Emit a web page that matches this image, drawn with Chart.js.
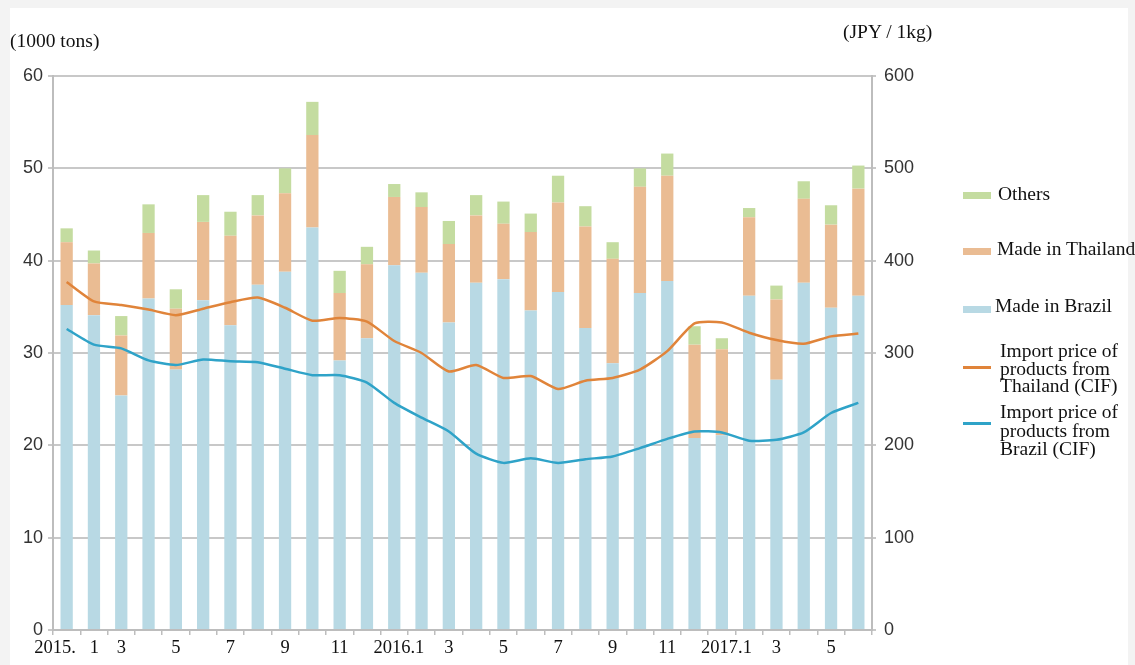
<!DOCTYPE html>
<html>
<head>
<meta charset="utf-8">
<script src="https://cdn.jsdelivr.net/npm/chart.js@4.4.0/dist/chart.umd.min.js"></script>
<style>
  html, body { margin: 0; padding: 0; width: 1135px; height: 665px; overflow: hidden; background: #f3f3f3; }
  #frame { position: absolute; left: 10px; top: 8px; width: 1118px; height: 657px; background: #ffffff; }
  #c { position: absolute; left: 0; top: 0; }
  .txt { position: absolute; font-family: "Liberation Serif", "Times New Roman", serif; font-size: 19.5px; color: #111; white-space: nowrap; }
  .sw { position: absolute; width: 28px; height: 7px; }
  .ln { position: absolute; width: 28px; height: 3px; }
</style>
</head>
<body>
<div id="frame"></div>
<canvas id="c" width="1135" height="665"></canvas>
<div class="txt" style="left:10px; top:30px;">(1000 tons)</div>
<div class="txt" style="left:843px; top:21px;">(JPY / 1kg)</div>

<div class="sw" style="left:963px; top:192px; background:#c4dca0;"></div>
<div class="txt" style="left:998px; top:183px;">Others</div>
<div class="sw" style="left:963px; top:248px; background:#eabc93;"></div>
<div class="txt" style="left:997px; top:238px;">Made in Thailand</div>
<div class="sw" style="left:963px; top:306px; background:#b8d9e4;"></div>
<div class="txt" style="left:995px; top:295px;">Made in Brazil</div>
<div class="ln" style="left:963px; top:366px; background:#e0843a;"></div>
<div class="txt" style="left:1000px; top:342px; line-height:17.5px;">Import price of<br>products from<br>Thailand (CIF)</div>
<div class="ln" style="left:963px; top:422px; background:#2fa3c8;"></div>
<div class="txt" style="left:1000px; top:403px; line-height:18.5px;">Import price of<br>products from<br>Brazil (CIF)</div>

<script>
const labels = ["2015.   1","","3","","5","","7","","9","","11","","  2016.1","","3","","5","","7","","9","","11","","  2017.1","","3","","5",""];
const madeInBrazil = [35.2,34.1,25.4,35.9,28.2,35.7,33.0,37.4,38.8,43.6,29.2,31.6,39.5,38.7,33.3,37.6,38.0,34.6,36.6,32.7,28.9,36.5,37.8,20.8,21.1,36.2,27.1,37.6,34.9,36.2];
const madeInThailand = [6.8,5.6,6.5,7.1,6.6,8.5,9.7,7.5,8.5,10.0,7.3,8.0,7.4,7.1,8.5,7.3,6.0,8.5,9.7,11.0,11.3,11.5,11.4,10.1,9.3,8.5,8.7,9.1,9.0,11.6];
const others = [1.5,1.4,2.1,3.1,2.1,2.9,2.6,2.2,2.7,3.6,2.4,1.9,1.4,1.6,2.5,2.2,2.4,2.0,2.9,2.2,1.8,2.0,2.4,2.0,1.2,1.0,1.5,1.9,2.1,2.5];
const priceThailand = [377,356,352,347,341,348,355,360,349,335,338,334,313,300,280,287,273,275,261,270,273,282,302,332,333,322,314,310,318,321];
const priceBrazil = [326,309,305,292,287,293,291,290,283,276,276,268,246,230,215,191,181,186,181,185,188,197,207,215,214,205,206,214,235,246];
const leftTicks = [0,10,20,30,40,50,60];
const rightTicks = [0,100,200,300,400,500,600];

const tickFont = { family: "'Liberation Sans', Arial, sans-serif", size: 18 };
const barCommon = { type: 'bar', yAxisID: 'y', stack: 's', barPercentage: 0.45, categoryPercentage: 1.0, order: 2, borderWidth: 0 };

new Chart(document.getElementById('c'), {
  data: {
    labels: labels,
    datasets: [
      { label: 'Import price of products from Thailand (CIF)', type: 'line', data: priceThailand, yAxisID: 'y2', borderColor: '#e0843a', borderWidth: 2.5, pointRadius: 0, tension: 0.2, fill: false, order: 0 },
      { label: 'Import price of products from Brazil (CIF)', type: 'line', data: priceBrazil, yAxisID: 'y2', borderColor: '#2fa3c8', borderWidth: 2.5, pointRadius: 0, tension: 0.2, fill: false, order: 0 },
      Object.assign({ label: 'Made in Brazil', data: madeInBrazil, backgroundColor: '#b8d9e4' }, barCommon),
      Object.assign({ label: 'Made in Thailand', data: madeInThailand, backgroundColor: '#eabc93' }, barCommon),
      Object.assign({ label: 'Others', data: others, backgroundColor: '#c4dca0' }, barCommon)
    ]
  },
  options: {
    responsive: false,
    animation: false,
    devicePixelRatio: 1,
    layout: { padding: { top: 76, left: 0, right: 0, bottom: 0 } },
    plugins: { legend: { display: false }, tooltip: { enabled: false } },
    scales: {
      x: {
        stacked: true,
        offset: true,
        afterFit: s => { s.height = 35; },
        grid: { offset: true, drawOnChartArea: false, tickLength: 5, color: '#bdbdbd', lineWidth: 1.5 },
        border: { color: '#bdbdbd', width: 2 },
        ticks: { autoSkip: false, maxRotation: 0, minRotation: 0, padding: 2, color: '#111', font: { family: "'Liberation Serif', 'Times New Roman', serif", size: 18.5 } }
      },
      y: {
        position: 'left',
        stacked: true,
        min: 0, max: 60,
        afterFit: s => { s.width = 53; },
        afterBuildTicks: s => { s.ticks = leftTicks.map(v => ({ value: v })); },
        grid: { color: '#c8c8c8', lineWidth: 2, tickLength: 5 },
        border: { color: '#bdbdbd', width: 2 },
        ticks: { padding: 5, color: '#333', font: tickFont }
      },
      y2: {
        position: 'right',
        min: 0, max: 600,
        afterFit: s => { s.width = 263; },
        afterBuildTicks: s => { s.ticks = rightTicks.map(v => ({ value: v })); },
        grid: { drawOnChartArea: false, tickLength: 4, color: '#c8c8c8', lineWidth: 2 },
        border: { color: '#bdbdbd', width: 2 },
        ticks: { padding: 8, color: '#333', font: tickFont }
      }
    }
  }
});
</script>
</body>
</html>
